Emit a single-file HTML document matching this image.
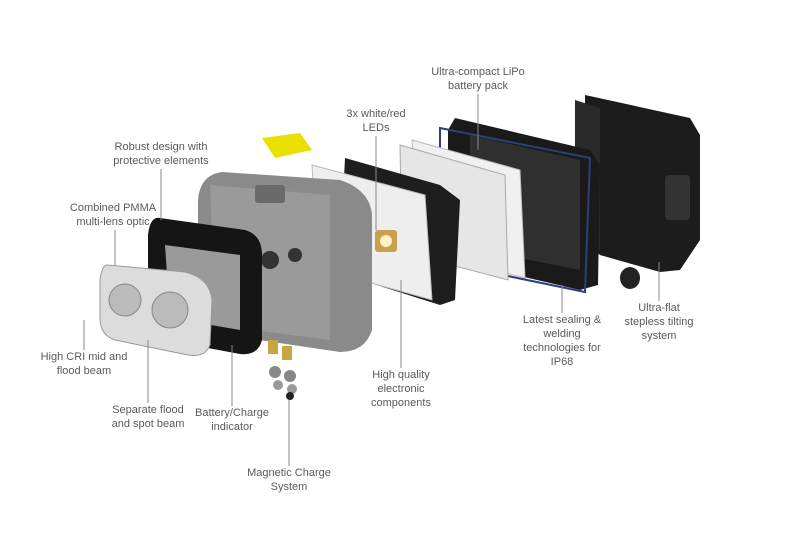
<!DOCTYPE html>
<html><head><meta charset="utf-8"><style>
html,body{margin:0;padding:0;background:#fff;}
#c{position:relative;width:800px;height:559px;overflow:hidden;font-family:"Liberation Sans",sans-serif;}
.l{position:absolute;font-size:11px;line-height:14px;color:#5a5a5a;text-align:center;white-space:nowrap;transform:translateX(-50%);}
svg{position:absolute;left:0;top:0;}
</style></head><body><div id="c">
<svg width="800" height="559" viewBox="0 0 800 559">
<polygon points="585,95 690,118 700,135 700,240 680,270 660,272 600,255 585,240" fill="#1c1c1c"/>
<polygon points="575,100 600,108 600,250 585,258 575,240" fill="#2a2a2a"/>
<rect x="665" y="175" width="25" height="45" fill="#333" rx="4"/>
<ellipse cx="630" cy="278" rx="10" ry="11" fill="#222"/>
<polygon points="455,118 590,150 600,165 598,285 580,290 460,262 448,245 448,130" fill="#1a1a1a"/>
<polygon points="470,135 580,160 580,270 470,248" fill="#2f2f2f"/>
<polygon points="440,128 590,158 585,292 440,262" fill="none" stroke="#2b3f7a" stroke-width="2"/>
<polygon points="412,140 520,170 525,278 418,250" fill="#f0f0f0" stroke="#bbb"/>
<polygon points="400,145 505,175 508,280 402,252" fill="#e6e6e6" stroke="#aaa"/>
<polygon points="345,158 440,185 460,200 455,300 440,305 345,275 340,260" fill="#1e1e1e"/>
<polygon points="312,165 425,195 432,300 318,268" fill="#eeeeee" stroke="#bbb"/>
<rect x="375" y="230" width="22" height="22" fill="#c8a050" rx="3"/>
<circle cx="386" cy="241" r="6" fill="#fff3c0"/>
<polygon points="262,138 300,133 312,150 275,158" fill="#e9e000"/>
<path d="M222,172 L340,180 Q370,190 372,215 L372,330 Q365,352 340,352 L225,335 Q200,325 198,300 L198,200 Q200,175 222,172Z" fill="#8a8a8a"/>
<path d="M210,185 L330,195 L330,340 L215,325Z" fill="#9a9a9a"/>
<circle cx="270" cy="260" r="9" fill="#333"/>
<circle cx="295" cy="255" r="7" fill="#333"/>
<rect x="255" y="185" width="30" height="18" fill="#6a6a6a" rx="3"/>
<path d="M160,218 L245,230 Q262,235 262,255 L262,340 Q258,356 240,354 L165,340 Q148,335 148,315 L148,235 Q150,216 160,218Z" fill="#151515"/>
<path d="M165,245 L240,255 L240,330 L170,318Z" fill="#9a9a9a"/>
<path d="M108,265 L185,272 Q210,278 212,300 L210,345 Q205,358 188,355 L115,340 Q100,335 100,318 L100,280 Q102,264 108,265Z" fill="#dcdcdc" stroke="#999"/>
<circle cx="125" cy="300" r="16" fill="#bbb" stroke="#888"/>
<circle cx="170" cy="310" r="18" fill="#bbb" stroke="#888"/>
<rect x="268" y="340" width="10" height="14" fill="#c9a640"/>
<rect x="282" y="346" width="10" height="14" fill="#c9a640"/>
<circle cx="275" cy="372" r="6" fill="#888"/><circle cx="290" cy="376" r="6" fill="#888"/>
<circle cx="278" cy="385" r="5" fill="#999"/><circle cx="292" cy="389" r="5" fill="#999"/>
<circle cx="290" cy="396" r="4" fill="#222"/>
<g stroke="#888" stroke-width="1">
<line x1="478" y1="94" x2="478" y2="150"/>
<line x1="376" y1="136" x2="376" y2="230"/>
<line x1="161" y1="169" x2="161" y2="220"/>
<line x1="115" y1="230" x2="115" y2="265"/>
<line x1="84" y1="350" x2="84" y2="320"/>
<line x1="148" y1="403" x2="148" y2="340"/>
<line x1="232" y1="406" x2="232" y2="345"/>
<line x1="289" y1="466" x2="289" y2="400"/>
<line x1="401" y1="368" x2="401" y2="280"/>
<line x1="562" y1="313" x2="562" y2="285"/>
<line x1="659" y1="301" x2="659" y2="262"/>
</g>
</svg>
<div class="l" style="left:478px;top:65px">Ultra-compact LiPo<br>battery pack</div>
<div class="l" style="left:376px;top:107px">3x white/red<br>LEDs</div>
<div class="l" style="left:161px;top:140px">Robust design with<br>protective elements</div>
<div class="l" style="left:113px;top:201px">Combined PMMA<br>multi-lens optic</div>
<div class="l" style="left:84px;top:350px">High CRI mid and<br>flood beam</div>
<div class="l" style="left:148px;top:403px">Separate flood<br>and spot beam</div>
<div class="l" style="left:232px;top:406px">Battery/Charge<br>indicator</div>
<div class="l" style="left:289px;top:466px">Magnetic Charge<br>System</div>
<div class="l" style="left:401px;top:368px">High quality<br>electronic<br>components</div>
<div class="l" style="left:562px;top:313px">Latest sealing &amp;<br>welding<br>technologies for<br>IP68</div>
<div class="l" style="left:659px;top:301px">Ultra-flat<br>stepless tilting<br>system</div>
</div></body></html>
